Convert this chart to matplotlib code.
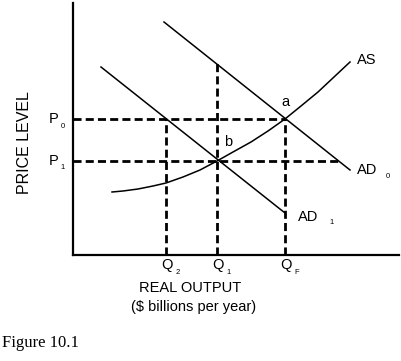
import matplotlib
matplotlib.use("Agg")
import matplotlib.pyplot as plt

plt.rcParams['font.family'] = ['Liberation Sans', 'DejaVu Sans']
plt.rcParams['lines.scale_dashes'] = False

# curves (units: pixels from the axis corner)
ad0_x = [91, 277]
ad0_y = [233, 85]
ad1_x = [28, 212]
ad1_y = [188, 42]
as_x = [39, 50, 65, 80, 93, 110, 127, 144, 160, 178, 195, 212, 228, 245, 261, 277]
as_y = [63, 64, 66, 69, 72, 78, 85, 94, 103, 113, 124, 136, 149, 163, 178, 193]

# reference levels
q2, q1, qf = 93, 144, 212
p0, p1 = 136, 94
ad0_at_q1 = 193      # AD0 height above Q1
ad0_at_p1 = 265      # AD0 output at P1

fig = plt.figure(figsize=(4.01, 3.61), dpi=100)
ax = fig.add_axes([73/401, (361-255)/361, (399-73)/401, (255-3)/361])
ax.set_xlim(0, 326)
ax.set_ylim(0, 252)
for s in ['top', 'right']:
    ax.spines[s].set_visible(False)
for s in ['left', 'bottom']:
    ax.spines[s].set_linewidth(1.6)
ax.set_xticks([])
ax.set_yticks([])

lw = 1.1
ax.plot(ad0_x, ad0_y, color='black', lw=lw)
ax.plot(ad1_x, ad1_y, color='black', lw=lw)
ax.plot(as_x, as_y, color='black', lw=lw)

dash = dict(color='black', lw=2.0, dashes=(5.8, 3.0))
ax.plot([0, qf], [p0, p0], **dash)
ax.plot([0, ad0_at_p1], [p1, p1], **dash)
ax.plot([q2, q2], [0, p0], **dash)
ax.plot([q1, q1], [0, ad0_at_q1], **dash)
ax.plot([qf, qf], [0, p0], **dash)

big = 10.5
small = 5.5
kw = dict(clip_on=False)
ax.text(284, 195, 'AS', fontsize=big, va='center', **kw)
ax.text(284, 85, 'AD', fontsize=big, va='center', **kw)
ax.text(313, 78, '0', fontsize=small, va='center', **kw)
ax.text(225, 38, 'AD', fontsize=big, va='center', **kw)
ax.text(256, 32, '1', fontsize=small, va='center', **kw)
ax.text(212, 153, 'a', fontsize=big, ha='center', va='center', **kw)
ax.text(155, 113, 'b', fontsize=big, ha='center', va='center', **kw)

ax.text(-15, p0, 'P', fontsize=10.5, ha='right', va='center', **kw)
ax.text(-10, p0 - 8, '0', fontsize=small, ha='center', va='center', **kw)
ax.text(-15, p1, 'P', fontsize=10.5, ha='right', va='center', **kw)
ax.text(-10, p1 - 7, '1', fontsize=small, ha='center', va='center', **kw)

for q, sub in [(q2, '2'), (q1, '1'), (qf, 'F')]:
    ax.text(q + 1, -10, 'Q', fontsize=10.5, ha='center', va='center', **kw)
    ax.text(q + 12, -18, sub, fontsize=small, ha='center', va='center', **kw)

ax.text(117, -33, 'REAL OUTPUT', fontsize=10.5, ha='center', va='center', **kw)
ax.text(121, -52, '($ billions per year)', fontsize=10.5, ha='center', va='center', **kw)
ax.text(-48, 112, 'PRICE LEVEL', fontsize=11.5, rotation=90, ha='center', va='center', **kw)

fig.text(2/401, 1 - 343/361, 'Figure 10.1', fontsize=12, family='Liberation Serif', va='center')

fig.savefig('out.png', dpi=100)
